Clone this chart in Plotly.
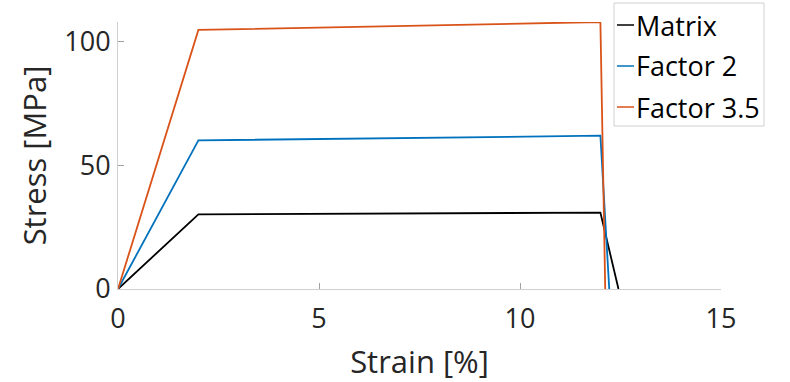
import plotly.graph_objects as go

strain_matrix = [0, 2, 12, 12.45]
stress_matrix = [0, 30.2, 30.9, 0]
strain_f2 = [0, 2, 12, 12.22]
stress_f2 = [0, 60.1, 62.0, 0]
strain_f35 = [0, 2, 12, 12.12]
stress_f35 = [0, 104.8, 108.0, 0]

series_names = ["Matrix", "Factor 2", "Factor 3.5"]
series_colors = ["#000000", "#0072BD", "#D95319"]

x_ticks = [0, 5, 10, 15]
y_ticks = [0, 50, 100]

FONT = "Open Sans"
TXT = "#262626"
AX = "#cfcfcf"

L, R, T, B = 118, 69, 22, 93
W, H = 790, 382
PW, PH = W - L - R, H - T - B


def px(x):
    return (x - L) / PW


def py(y):
    return (H - B - y) / PH


fig = go.Figure()
for xs, ys, nm, col in zip([strain_matrix, strain_f2, strain_f35],
                           [stress_matrix, stress_f2, stress_f35],
                           series_names, series_colors):
    fig.add_trace(go.Scatter(x=xs, y=ys, mode="lines", name=nm,
                             line=dict(color=col, width=1.8), showlegend=False))

# manual legend (MATLAB style)
shapes = [dict(type="rect", xref="paper", yref="paper",
               x0=px(614), x1=px(764), y0=py(126), y1=py(3),
               line=dict(color="#d0d0d0", width=1), fillcolor="white", layer="above")]
annotations = []
for i, (nm, col) in enumerate(zip(series_names, series_colors)):
    yc = 25 + i * 41
    shapes.append(dict(type="line", xref="paper", yref="paper",
                       x0=px(617), x1=px(634), y0=py(yc), y1=py(yc),
                       line=dict(color=col, width=1.5), layer="above"))
    annotations.append(dict(xref="paper", yref="paper", x=px(634), y=py(yc),
                            xanchor="left", yanchor="middle", showarrow=False,
                            text=nm, font=dict(size=27, color="#000000", family=FONT)))

fig.update_layout(
    width=W, height=H,
    margin=dict(l=L, r=R, t=T, b=B),
    paper_bgcolor="white", plot_bgcolor="white",
    font=dict(family=FONT, color=TXT),
    showlegend=False,
    shapes=shapes, annotations=annotations,
    xaxis=dict(range=[0, 15], tickvals=x_ticks, showgrid=False, zeroline=False,
               showline=True, linecolor=AX, linewidth=1, ticks="inside",
               ticklen=6, tickcolor="#a0a0a0", tickfont=dict(size=27, color=TXT),
               ticklabelstandoff=6, automargin=False,
               title=dict(text="Strain [%]", font=dict(size=31, color=TXT), standoff=16)),
    yaxis=dict(range=[0, 108], tickvals=y_ticks, showgrid=False, zeroline=False,
               showline=True, linecolor=AX, linewidth=1, ticks="inside",
               ticklen=6, tickcolor="#a0a0a0", tickfont=dict(size=27, color=TXT),
               ticklabelstandoff=1, automargin=False,
               title=dict(text="Stress [MPa]", font=dict(size=31, color=TXT), standoff=8)),
)

fig.write_html("out.html")
